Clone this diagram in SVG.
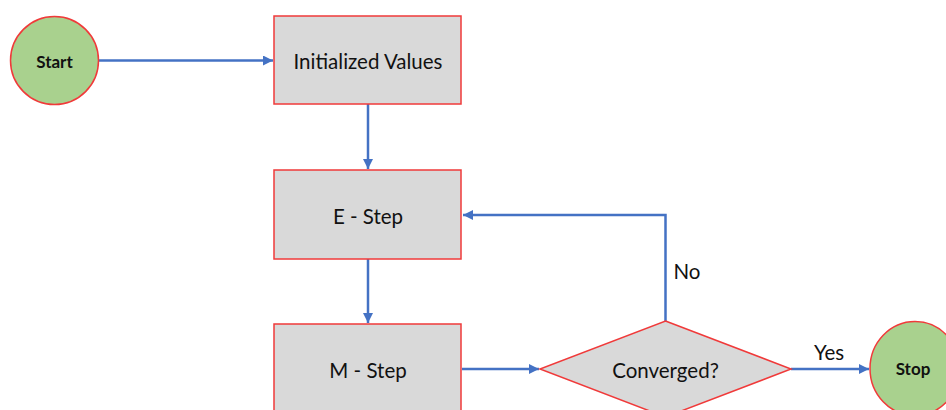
<svg xmlns="http://www.w3.org/2000/svg" width="946" height="410" viewBox="0 0 946 410">
  <style>
    .term { fill: #A9D18E; stroke: #F03A3A; stroke-width: 1.5; }
    .box { fill: #D9D9D9; stroke: #F03A3A; stroke-width: 1.5; }
    .edge { fill: none; stroke: #4472C4; stroke-width: 2.5; }
    .lbl { font-family: Lato, "Liberation Sans", sans-serif; font-size: 20.5px; fill: #111; text-anchor: middle; dominant-baseline: central; }
    .tlbl { font-family: Lato, "Liberation Sans", sans-serif; font-size: 17px; font-weight: bold; fill: #111; text-anchor: middle; dominant-baseline: central; }
  </style>
  <defs>
    <marker id="arrow" viewBox="0 0 10 10" refX="10" refY="5" markerWidth="4" markerHeight="4" markerUnits="strokeWidth" orient="auto">
      <path d="M0,0 L10,5 L0,10 z" fill="#4472C4"/>
    </marker>
  </defs>
  <rect width="946" height="410" fill="#FFFFFF"/>

  <g id="connectors">
    <path class="edge" d="M99,60.5 L273,60.5" marker-end="url(#arrow)"/>
    <path class="edge" d="M368,104 L368,169" marker-end="url(#arrow)"/>
    <path class="edge" d="M368,259 L368,323" marker-end="url(#arrow)"/>
    <path class="edge" d="M462,369 L539,369" marker-end="url(#arrow)"/>
    <path class="edge" d="M665.5,321 L665.5,215 L463,215" marker-end="url(#arrow)"/>
    <path class="edge" d="M791,369 L869,369" marker-end="url(#arrow)"/>
    <text class="lbl" x="687" y="271">No</text>
    <text class="lbl" x="829" y="352">Yes</text>
  </g>

  <g id="start">
    <circle class="term" cx="54.5" cy="60.5" r="44"/>
    <text class="tlbl" x="54.5" y="61">Start</text>
  </g>
  <g id="init">
    <rect class="box" x="274" y="16" width="187" height="88"/>
    <text class="lbl" x="368" y="61">Initialized Values</text>
  </g>
  <g id="estep">
    <rect class="box" x="274" y="170" width="187" height="89"/>
    <text class="lbl" x="368" y="216">E - Step</text>
  </g>
  <g id="mstep">
    <rect class="box" x="274" y="324" width="187" height="100"/>
    <text class="lbl" x="368" y="370">M - Step</text>
  </g>
  <g id="converged">
    <polygon class="box" points="665.5,321 791,369 665.5,417 540,369"/>
    <text class="lbl" x="665.5" y="370">Converged?</text>
  </g>
  <g id="stop">
    <ellipse class="term" cx="915" cy="368.5" rx="45" ry="47"/>
    <text class="tlbl" x="913" y="368">Stop</text>
  </g>
</svg>
